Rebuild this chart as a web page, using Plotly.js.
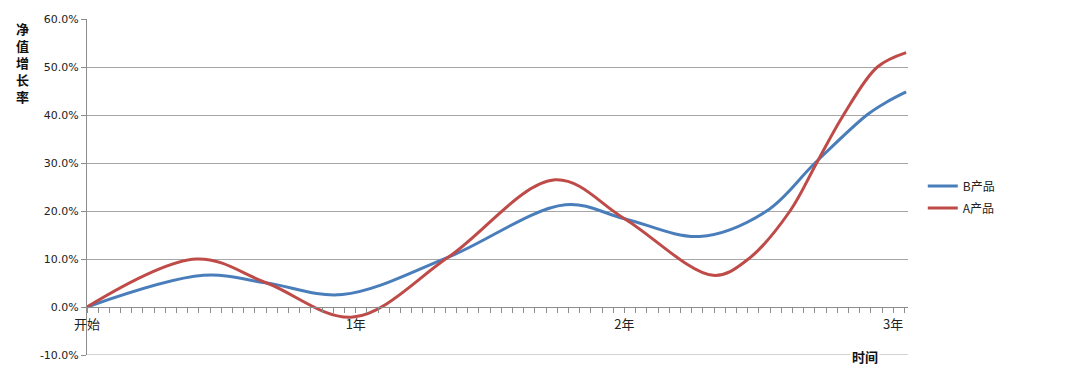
<!DOCTYPE html>
<html>
<head>
<meta charset="utf-8">
<script src="https://cdn.plot.ly/plotly-3.0.1.min.js"></script>
<style>html,body{margin:0;padding:0;background:#fff;}#chart{width:1080px;height:372px;}</style>
</head>
<body>
<div id="chart"></div>
<script>
// Time in years, values in percent (净值增长率)
var seriesNames = ["B产品", "A产品"];
var bTime  = [0, 0.433, 0.669, 0.95, 1.345, 1.78, 2.0, 2.28, 2.529, 2.709, 2.902, 2.976, 3.048];
var bValue = [0, 6.6, 5.0, 2.6, 10.4, 21.3, 18.4, 14.7, 20.0, 30.0, 40.0, 42.7, 44.8];
var aTime  = [0, 0.408, 0.669, 0.99, 1.345, 1.742, 2.0, 2.33, 2.461, 2.616, 2.715, 2.815, 2.941, 3.048];
var aValue = [0, 10.0, 5.0, -2.1, 10.4, 26.5, 18.4, 6.6, 10.0, 20.0, 30.0, 40.0, 50.0, 53.0];
var xTickVals = [0, 1, 2, 3];
var xTickText = ["开始", "1年", "2年", "3年"];
var yTickVals = [-10, 0, 10, 20, 30, 40, 50, 60];
var yTickText = ["-10.0%", "0.0%", "10.0%", "20.0%", "30.0%", "40.0%", "50.0%", "60.0%"];

var FONT = "'DejaVu Sans', sans-serif";
var CJK = "'Noto Sans CJK SC', sans-serif";
var AXIS = '#8c8c8c';

var traces = [
  {x: bTime, y: bValue, name: seriesNames[0], legendgroup: 'b', type: 'scatter', mode: 'lines',
   line: {color: '#4a7ebb', width: 3, shape: 'spline', smoothing: 1}},
  {x: aTime, y: aValue, name: seriesNames[1], legendgroup: 'a', type: 'scatter', mode: 'lines',
   line: {color: '#be4b48', width: 3, shape: 'spline', smoothing: 1}}
];

var layout = {
  width: 1080, height: 372,
  margin: {l: 87, r: 172, t: 19, b: 17},
  paper_bgcolor: '#fff', plot_bgcolor: '#fff',
  font: {family: FONT, size: 11, color: '#222'},
  showlegend: true,
  legend: {x: 1.018, y: 0.47, xanchor: 'left', yanchor: 'middle', tracegroupgap: 3,
           font: {family: CJK, size: 12, color: '#222'}, bgcolor: 'rgba(0,0,0,0)'},
  xaxis: {
    range: [0, 3.055], anchor: 'free', position: 1/7,
    tickmode: 'array', tickvals: xTickVals, ticktext: xTickText,
    ticks: 'outside', ticklen: 5, tickcolor: AXIS, tickwidth: 1,
    minor: {tickmode: 'linear', tick0: 0, dtick: 1/24, ticks: 'outside', ticklen: 5, tickcolor: AXIS, showgrid: false},
    showline: true, linecolor: AXIS, linewidth: 1,
    showgrid: false, zeroline: false,
    tickfont: {family: CJK, size: 13, color: '#222'}
  },
  yaxis: {
    range: [-10, 60], tickmode: 'array', tickvals: yTickVals, ticktext: yTickText,
    ticks: 'outside', ticklen: 5, tickcolor: AXIS,
    showline: true, linecolor: AXIS, linewidth: 1,
    showgrid: true, gridcolor: '#a6a6a6', gridwidth: 1,
    zeroline: false,
    tickfont: {family: FONT, size: 11, color: '#222'}
  },
  shapes: [
    {type: 'line', xref: 'paper', yref: 'y', x0: 0, x1: 1, y0: -10, y1: -10,
     line: {color: '#a6a6a6', width: 1}, layer: 'below'}
  ],
  annotations: [
    {text: '<b>净<br>值<br>增<br>长<br>率</b>', xref: 'paper', yref: 'paper',
     x: -0.078, y: 0.87, xanchor: 'center', yanchor: 'middle', showarrow: false,
     font: {family: CJK, size: 13, color: '#111'}},
    {text: '<b>时间</b>', xref: 'paper', yref: 'paper',
     x: 0.9476, y: -0.004, xanchor: 'center', yanchor: 'middle', showarrow: false,
     bgcolor: '#fff', font: {family: CJK, size: 13, color: '#111'}}
  ]
};

Plotly.newPlot('chart', traces, layout, {displayModeBar: false, staticPlot: true});
</script>
</body>
</html>
